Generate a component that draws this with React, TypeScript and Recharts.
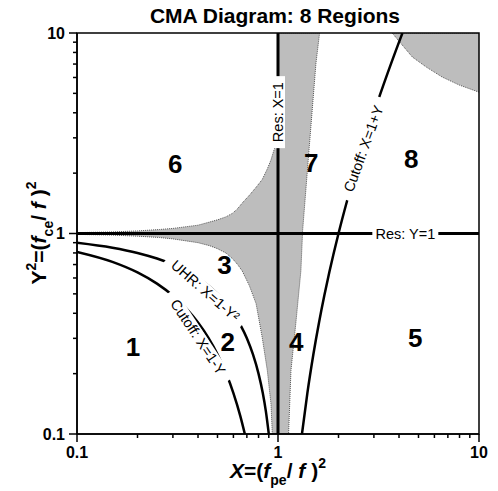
import React from "react";
import {
    ComposedChart,
    XAxis,
    YAxis,
    Line,
    Area,
    Scatter,
    ReferenceArea,
} from "recharts";

const FONT = "'Liberation Sans', Arial, Helvetica, sans-serif";

// log axis ticks, majors get a label
const axisTicks = [0.1, 0.2, 0.3, 0.4, 0.5, 0.6, 0.7, 0.8, 0.9, 1, 2, 3, 4, 5, 6, 7, 8, 9, 10];
const majorTicks = [0.1, 1, 10];

// resonances
const resXX = [1, 1];
const resXY = [0.1, 10];
const resYX = [0.1, 10];
const resYY = [1, 1];

// UHR: X = 1 - Y^2
const uhrX = [0.1, 0.15, 0.2, 0.25, 0.3, 0.4, 0.5, 0.6, 0.7, 0.75, 0.8, 0.84, 0.87, 0.9];
const uhrY = [0.9, 0.85, 0.8, 0.75, 0.7, 0.6, 0.5, 0.4, 0.3, 0.25, 0.2, 0.16, 0.13, 0.1];

// cutoff X = 1 - Y
const cutLowX = [0.1, 0.15, 0.2, 0.25, 0.3, 0.35, 0.4, 0.45, 0.5, 0.55, 0.6, 0.65, 0.684];
const cutLowY = [0.81, 0.7225, 0.64, 0.5625, 0.49, 0.4225, 0.36, 0.3025, 0.25, 0.2025, 0.16, 0.1225, 0.1];

// cutoff X = 1 + Y
const cutHighX = [1.316, 1.4, 1.5, 1.6, 1.7, 1.8, 2, 2.2, 2.5, 3, 3.5, 4, 4.162];
const cutHighY = [0.1, 0.16, 0.25, 0.36, 0.49, 0.64, 1, 1.44, 2.25, 4, 6.25, 9, 10];

// grey band around the resonances
const shadeX = [0.1, 0.15, 0.2, 0.257, 0.3, 0.4, 0.456, 0.5, 0.55, 0.593, 0.63, 0.664, 0.72, 0.778, 0.835, 0.885, 0.923, 0.937, 0.96, 0.98, 1, 1, 1.129, 1.16, 1.23, 1.3, 1.326, 1.43, 1.545, 1.61];
const shadeLo = [0.99, 0.982, 0.97, 0.955, 0.94, 0.9, 0.87, 0.84, 0.8, 0.75, 0.7, 0.65, 0.55, 0.447, 0.302, 0.207, 0.141, 0.1, 0.1, 0.1, 0.1, 0.1, 0.1, 0.207, 0.367, 0.653, 1.035, 2.69, 7.08, 10];
const shadeHi = [1.01, 1.018, 1.03, 1.047, 1.06, 1.1, 1.14, 1.17, 1.21, 1.26, 1.33, 1.42, 1.55, 1.7, 1.86, 2.1, 2.33, 2.45, 2.65, 2.8, 2.9, 10, 10, 10, 10, 10, 10, 10, 10, 10];

// grey corner, top right
const cornerX = [3.7, 4.0, 4.66, 5.47, 6.56, 7.98, 10];
const cornerLo = [10, 9.1, 7.59, 6.76, 6.03, 5.5, 5.07];

// region numbers
const regionNames = ["1", "2", "3", "4", "5", "6", "7", "8"];
const regionX = [0.19, 0.563, 0.541, 1.233, 4.82, 0.308, 1.465, 4.6];
const regionY = [0.272, 0.288, 0.7, 0.288, 0.302, 2.24, 2.26, 2.37];

// curve labels
const curveNames = ["Res: X=1", "Res: Y=1", "Cutoff: X=1+Y", "UHR: X=1-Y²", "Cutoff: X=1-Y"];
const curveX = [1, 4.3, 2.657, 0.436, 0.401];
const curveY = [4.03, 1, 2.65, 0.519, 0.305];

const labelStyle: Record<string, { angle: number; gap: number }> = {
    "Res: X=1": { angle: -90, gap: 72 },
    "Res: Y=1": { angle: 0, gap: 66 },
    "Cutoff: X=1+Y": { angle: -70, gap: 108 },
    "UHR: X=1-Y²": { angle: 41, gap: 100 },
    "Cutoff: X=1-Y": { angle: 56.5, gap: 106 },
};

const pts = (xs: number[], ys: number[]) => xs.map((x, i) => ({ x, y: ys[i] }));

const resXData = pts(resXX, resXY);
const resYData = pts(resYX, resYY);
const uhrData = pts(uhrX, uhrY);
const cutLowData = pts(cutLowX, cutLowY);
const cutHighData = pts(cutHighX, cutHighY);
const shadeData = shadeX.map((x, i) => ({ x, r: [shadeLo[i], shadeHi[i]] }));
const cornerData = cornerX.map((x, i) => ({ x, r: [cornerLo[i], 10] }));
const regionData = regionNames.map((name, i) => ({ name, x: regionX[i], y: regionY[i] }));
const curveLabelData = curveNames.map((name, i) => ({ name, x: curveX[i], y: curveY[i] }));

const XTick = ({ x, y, payload }: any) => {
    const major = majorTicks.includes(payload.value);
    return (
        <g>
            <line x1={x} x2={x} y1={y} y2={y + (major ? 8 : 4)} stroke="#000" strokeWidth={1.5} />
            {major && (
                <text x={x} y={y + 24} textAnchor="middle" fontFamily={FONT} fontWeight="bold" fontSize={16} fill="#000">
                    {payload.value}
                </text>
            )}
        </g>
    );
};

const YTick = ({ x, y, payload }: any) => {
    const major = majorTicks.includes(payload.value);
    return (
        <g>
            <line x1={x} x2={x - (major ? 8 : 4)} y1={y} y2={y} stroke="#000" strokeWidth={1.5} />
            {major && (
                <text x={x - 12} y={y} dy="0.36em" textAnchor="end" fontFamily={FONT} fontWeight="bold" fontSize={16} fill="#000">
                    {payload.value}
                </text>
            )}
        </g>
    );
};

const RegionNumber = ({ cx, cy, payload }: any) => (
    <text x={cx} y={cy} dy="0.36em" textAnchor="middle" fontFamily={FONT} fontWeight="bold" fontSize={26} fill="#000">
        {payload.name}
    </text>
);

const CurveLabel = ({ cx, cy, payload }: any) => {
    const st = labelStyle[payload.name];
    return (
        <g transform={`translate(${cx},${cy}) rotate(${st.angle})`}>
            <rect x={-st.gap / 2} y={-7} width={st.gap} height={14} fill="#fff" />
            <text x={0} y={0} dy="0.36em" textAnchor="middle" fontFamily={FONT} fontSize={14.5} fill="#000">
                {payload.name}
            </text>
        </g>
    );
};

export default function App() {
    return (
        <div style={{ position: "relative", width: 498, height: 491 }}>
            <style>{`body{margin:0}`}</style>
            <ComposedChart
                width={498}
                height={491}
                margin={{ top: 33, right: 19, bottom: 17, left: 17 }}
            >
                <XAxis
                    type="number"
                    dataKey="x"
                    scale="log"
                    domain={[0.1, 10]}
                    allowDataOverflow
                    ticks={axisTicks}
                    interval={0}
                    tick={XTick}
                    tickLine={false}
                    tickSize={0}
                    tickMargin={0}
                    height={40}
                    axisLine={{ stroke: "#000", strokeWidth: 1.5 }}
                />
                <YAxis
                    type="number"
                    dataKey="y"
                    scale="log"
                    domain={[0.1, 10]}
                    allowDataOverflow
                    ticks={axisTicks}
                    interval={0}
                    tick={YTick}
                    tickLine={false}
                    tickSize={0}
                    tickMargin={0}
                    width={60}
                    axisLine={{ stroke: "#000", strokeWidth: 1.5 }}
                />

                <Area
                    data={shadeData}
                    dataKey="r"
                    type="linear"
                    fill="#bdbdbd"
                    fillOpacity={1}
                    stroke="#555"
                    strokeWidth={1}
                    strokeDasharray="1 1"
                    dot={false}
                    activeDot={false}
                    isAnimationActive={false}
                />
                <Area
                    data={cornerData}
                    dataKey="r"
                    type="linear"
                    fill="#bdbdbd"
                    fillOpacity={1}
                    stroke="#555"
                    strokeWidth={1}
                    strokeDasharray="1 1"
                    dot={false}
                    activeDot={false}
                    isAnimationActive={false}
                />

                <Line data={resXData} dataKey="y" type="linear" stroke="#000" strokeWidth={3} dot={false} activeDot={false} isAnimationActive={false} />
                <Line data={resYData} dataKey="y" type="linear" stroke="#000" strokeWidth={3} dot={false} activeDot={false} isAnimationActive={false} />
                <Line data={uhrData} dataKey="y" type="monotone" stroke="#000" strokeWidth={2.5} dot={false} activeDot={false} isAnimationActive={false} />
                <Line data={cutLowData} dataKey="y" type="monotone" stroke="#000" strokeWidth={2.5} dot={false} activeDot={false} isAnimationActive={false} />
                <Line data={cutHighData} dataKey="y" type="monotone" stroke="#000" strokeWidth={2.5} dot={false} activeDot={false} isAnimationActive={false} />

                <Scatter data={curveLabelData} shape={CurveLabel} isAnimationActive={false} />
                <Scatter data={regionData} shape={RegionNumber} isAnimationActive={false} />

                <ReferenceArea x1={0.1} x2={10} y1={0.1} y2={10} fill="none" stroke="#000" strokeWidth={1.5} ifOverflow="visible" />
            </ComposedChart>

            <svg width={498} height={491} style={{ position: "absolute", left: 0, top: 0, pointerEvents: "none" }}>
                <text x={275} y={23} textAnchor="middle" fontFamily={FONT} fontWeight="bold" fontSize={21} fill="#000">
                    CMA Diagram: 8 Regions
                </text>
                <text x={278} y={478} textAnchor="middle" fontFamily={FONT} fontWeight="bold" fontSize={21} fill="#000">
                    <tspan fontStyle="italic">X</tspan>=(<tspan fontStyle="italic">f</tspan>
                    <tspan fontSize={14} dy={7}>pe</tspan>
                    <tspan dy={-7}>/ </tspan>
                    <tspan fontStyle="italic">f</tspan> )
                    <tspan fontSize={14} dy={-10}>2</tspan>
                </text>
                <text transform="translate(46,233) rotate(-90)" textAnchor="middle" fontFamily={FONT} fontWeight="bold" fontSize={21} fill="#000">
                    Y<tspan fontSize={14} dy={-10}>2</tspan>
                    <tspan dy={10}>=(</tspan>
                    <tspan fontStyle="italic">f</tspan>
                    <tspan fontSize={14} dy={7}>ce</tspan>
                    <tspan dy={-7}>/ </tspan>
                    <tspan fontStyle="italic">f</tspan> )
                    <tspan fontSize={14} dy={-10}>2</tspan>
                </text>
            </svg>
        </div>
    );
}
